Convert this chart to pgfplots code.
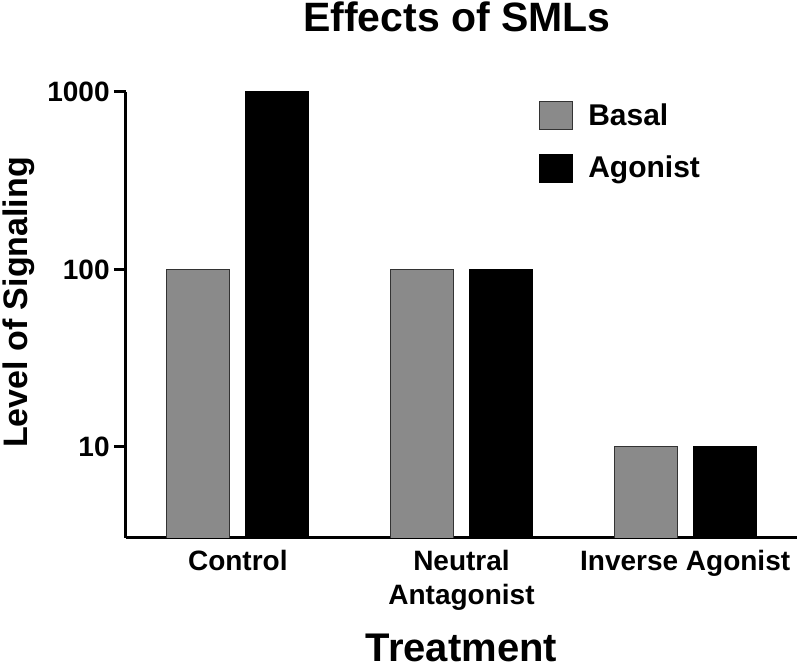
\documentclass[border=0pt]{standalone}
\usepackage{pgfplots}
\pgfplotsset{compat=1.18}
\usepackage{fontspec}
\setmainfont{Liberation Sans}
\definecolor{barGray}{RGB}{138,138,138}
\begin{document}
\begin{tikzpicture}
\begin{axis}[
  scale only axis,
  width=335.5pt, height=223pt,
  ymode=log,
  ymin=3.07, ymax=1000,
  xmin=-0.5, xmax=2.5,
  axis x line=bottom, axis y line=left,
  axis line style={line width=1.5pt, -},
  ybar,
  bar width=0.2817,
  xtick={0,1,2},
  xticklabels={Control,{Neutral\\Antagonist},Inverse Agonist},
  xtick style={draw=none},
  xticklabel style={align=center, inner sep=0pt, anchor=north, yshift=0pt,
    font=\fontsize{14}{17}\selectfont\bfseries},
  ytick={10,100,1000},
  yticklabels={10,100,1000},
  yminorticks=false,
  tick align=outside,
  major tick length=6pt,
  ytick style={line width=1.5pt, black},
  yticklabel style={anchor=east, inner sep=0pt, xshift=-2pt, font=\fontsize{14}{17}\selectfont\bfseries},
  xlabel={Treatment},
  xlabel style={at={(rel axis cs:0.5,0)}, anchor=base, yshift=-62pt, inner sep=0pt,
    font=\fontsize{20}{24}\selectfont\bfseries},
  ylabel={Level of Signaling},
  ylabel style={at={(axis description cs:-0.1356,0.528)}, anchor=south, inner sep=0pt,
    font=\fontsize{17}{20}\selectfont\bfseries},
  title={Effects of SMLs},
  title style={at={(rel axis cs:0.5,1)}, anchor=base, yshift=24pt, xshift=-2.25pt, inner sep=0pt,
    font=\fontsize{20.5}{24}\selectfont\bfseries},
  legend style={at={(axis cs:1.346,1000)}, anchor=north west, draw=none, fill=none,
    inner sep=0pt, row sep=10pt, column sep=5.5pt, yshift=-3.5pt,
    font=\fontsize{15}{18}\selectfont\bfseries},
  legend cell align=left,
  legend image code/.code={\draw[#1, line width=0.5pt] (0pt,-7pt) rectangle (16.5pt,7pt);},
]
\addplot[fill=barGray, draw=black!80, line width=0.5pt, bar shift=-0.177] coordinates {(0,100) (1,100) (2,10)};
\addplot[fill=black, draw=black, line width=0.5pt, bar shift=0.177] coordinates {(0,1000) (1,100) (2,10)};
\legend{Basal, Agonist}
\end{axis}
\pgfresetboundingbox
\path (-63pt,-65pt) rectangle (337pt,269pt);
\end{tikzpicture}
\end{document}
